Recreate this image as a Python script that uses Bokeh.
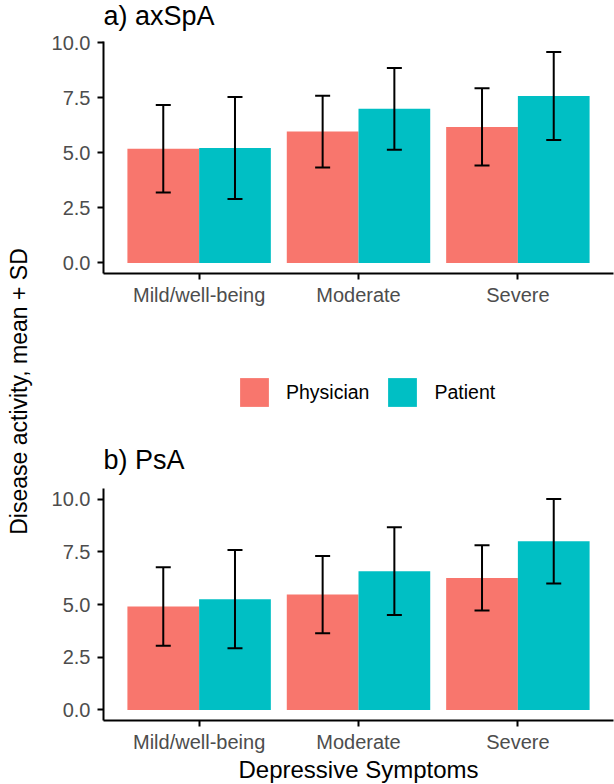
import math
from bokeh.plotting import figure
from bokeh.models import (ColumnDataSource, FactorRange, Range1d, Whisker, TeeHead,
                          FixedTicker, Legend, LegendItem, Label)
from bokeh.transform import dodge
from bokeh.layouts import row, column
from bokeh.embed import file_html
from bokeh.resources import INLINE

# ---------------- data ----------------
categories = ["Mild/well-being", "Moderate", "Severe"]
groups = ["Physician", "Patient"]
panel_titles = ["a) axSpA", "b) PsA"]

axspa_physician_mean = [5.19, 5.97, 6.18]
axspa_physician_sd = [1.99, 1.63, 1.75]
axspa_patient_mean = [5.22, 7.00, 7.58]
axspa_patient_sd = [2.32, 1.86, 2.00]

psa_physician_mean = [4.91, 5.47, 6.26]
psa_physician_sd = [1.86, 1.83, 1.55]
psa_patient_mean = [5.25, 6.58, 8.00]
psa_patient_sd = [2.33, 2.08, 2.00]

y_ticks = [0.0, 2.5, 5.0, 7.5, 10.0]
y_tick_labels = ["0.0", "2.5", "5.0", "7.5", "10.0"]

colors = ["#F8766D", "#00BFC4"]

# ---------------- style ----------------
FONT = "Liberation Sans"
TICK_COLOR = "#4D4D4D"
FRAME_W, FRAME_H = 510, 232
LABEL_W = 36
LEFT = 67
OFFSETS = [-0.225, 0.225]
BAR_W = 0.45


def blank(p):
    p.outline_line_color = None
    p.xgrid.grid_line_color = None
    p.ygrid.grid_line_color = None


def title_label(text, y):
    return Label(x=0, y=y, x_units="screen", y_units="data", text=text,
                 text_align="left", text_baseline="middle",
                 text_font=FONT, text_font_size="27px", text_color="black")


def add_bars(p, series):
    renderers = []
    for (mean, sd), color, off in zip(series, colors, OFFSETS):
        src = ColumnDataSource(dict(
            cat=categories, mean=mean,
            upper=[m + s for m, s in zip(mean, sd)],
            lower=[m - s for m, s in zip(mean, sd)]))
        r = p.vbar(x=dodge("cat", off, range=p.x_range), top="mean", bottom=0,
                   width=BAR_W, source=src, fill_color=color, line_color=None)
        renderers.append((r, src, off))
    return renderers


def make_panel(series, border_top, border_bottom, xlabel=None):
    ymax = max(m + s for mean, sd in series for m, s in zip(mean, sd))
    pad = 0.05 * ymax
    p = figure(x_range=FactorRange(*categories, range_padding=0.1,
                                   range_padding_units="absolute"),
               y_range=Range1d(-pad, ymax + pad),
               frame_width=FRAME_W, frame_height=FRAME_H,
               min_border_left=LEFT, min_border_right=1,
               min_border_top=border_top, min_border_bottom=border_bottom,
               output_backend="svg", toolbar_location=None)
    blank(p)

    for r, src, off in add_bars(p, series):
        p.add_layout(Whisker(
            base=dodge("cat", off, range=p.x_range), upper="upper",
            lower="lower", source=src, line_color="black", line_width=2,
            level="annotation",
            upper_head=TeeHead(size=15, line_width=2, line_color="black"),
            lower_head=TeeHead(size=15, line_width=2, line_color="black")))

    for ax in (p.xaxis[0], p.yaxis[0]):
        ax.axis_line_width = 2
        ax.axis_line_color = "black"
        ax.major_tick_line_width = 2
        ax.major_tick_line_color = "black"
        ax.major_tick_out = 6
        ax.major_tick_in = 0
        ax.minor_tick_line_color = None
        ax.major_label_text_font = FONT
        ax.major_label_text_font_size = "20px"
        ax.major_label_text_color = TICK_COLOR
    p.xaxis.major_label_standoff = 4
    p.yaxis.major_label_standoff = 7
    p.yaxis.ticker = FixedTicker(ticks=y_ticks)
    p.yaxis.major_label_overrides = {t: l for t, l in zip(y_ticks, y_tick_labels)}
    if xlabel:
        p.xaxis.axis_label = xlabel
        p.xaxis.axis_label_text_font = FONT
        p.xaxis.axis_label_text_font_size = "24px"
        p.xaxis.axis_label_text_font_style = "normal"
        p.xaxis.axis_label_text_color = "black"
        p.xaxis.axis_label_standoff = 0
    return p


axspa_series = [(axspa_physician_mean, axspa_physician_sd),
                (axspa_patient_mean, axspa_patient_sd)]
psa_series = [(psa_physician_mean, psa_physician_sd),
              (psa_patient_mean, psa_patient_sd)]

# title strip for panel a)
ttl = figure(x_range=Range1d(0, 1), y_range=Range1d(0, 1),
             frame_width=FRAME_W, frame_height=32,
             min_border_left=LEFT, min_border_right=1,
             min_border_top=0, min_border_bottom=0,
             x_axis_type=None, y_axis_type=None,
             output_backend="svg", toolbar_location=None)
blank(ttl)
ttl.add_layout(title_label(panel_titles[0], 0.53))

top = make_panel(axspa_series, border_top=9, border_bottom=34)
bottom = make_panel(psa_series, border_top=12, border_bottom=64,
                    xlabel="Depressive Symptoms")

# shared legend strip between the panels (also holds the title of panel b):
# same bars, drawn on a range that keeps them out of view, so only the keys show
LEG_H = 168
leg = figure(x_range=top.x_range, y_range=Range1d(-1, 0),
             frame_width=FRAME_W, frame_height=LEG_H,
             min_border_left=LEFT, min_border_right=1,
             min_border_top=0, min_border_bottom=0,
             x_axis_type=None, y_axis_type=None,
             output_backend="svg", toolbar_location=None)
blank(leg)
leg_r = [r for r, _, _ in add_bars(leg, axspa_series)]
legend = Legend(items=[LegendItem(label=g, renderers=[r]) for g, r in zip(groups, leg_r)],
                location=(133, 66), orientation="horizontal",
                glyph_width=36, glyph_height=36,
                label_text_font=FONT, label_text_font_size="19.5px",
                label_text_color="black", label_standoff=14, spacing=15,
                padding=0, margin=0, border_line_color=None,
                background_fill_alpha=0)
leg.add_layout(legend)
leg.add_layout(title_label(panel_titles[1], -1 + 16.5 / LEG_H))

lab = figure(width=LABEL_W, height=782, x_range=Range1d(0, 1), y_range=Range1d(0, 1),
             x_axis_type=None, y_axis_type=None, min_border=0,
             output_backend="svg", toolbar_location=None)
blank(lab)
lab.add_layout(Label(x=0.5, y=0.5, text="Disease activity, mean + SD", angle=math.pi / 2,
                     text_align="center", text_baseline="middle",
                     text_font=FONT, text_font_size="23px", text_color="black"))

layout = row(lab, column(ttl, top, leg, bottom))
open("out.html", "w").write(file_html(layout, INLINE))
